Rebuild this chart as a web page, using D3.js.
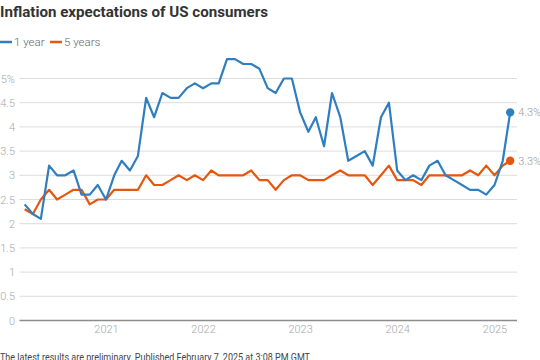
<!DOCTYPE html>
<html>
<head>
<meta charset="utf-8">
<script src="https://cdn.jsdelivr.net/npm/d3@7"></script>
<style>
  html, body { margin: 0; padding: 0; background: #fff; }
  svg { display: block; }
  text { font-family: Roboto, "Noto Sans", sans-serif; }
</style>
</head>
<body>
<svg id="chart" width="540" height="360"></svg>
<script>
// ---- Data (monthly, Feb 2020 – Feb 2025) ----
const months = [
  "2020-02","2020-03","2020-04","2020-05","2020-06","2020-07","2020-08","2020-09","2020-10","2020-11","2020-12",
  "2021-01","2021-02","2021-03","2021-04","2021-05","2021-06","2021-07","2021-08","2021-09","2021-10","2021-11","2021-12",
  "2022-01","2022-02","2022-03","2022-04","2022-05","2022-06","2022-07","2022-08","2022-09","2022-10","2022-11","2022-12",
  "2023-01","2023-02","2023-03","2023-04","2023-05","2023-06","2023-07","2023-08","2023-09","2023-10","2023-11","2023-12",
  "2024-01","2024-02","2024-03","2024-04","2024-05","2024-06","2024-07","2024-08","2024-09","2024-10","2024-11","2024-12",
  "2025-01","2025-02"
];
const oneYear = [
  2.4,2.2,2.1,3.2,3.0,3.0,3.1,2.6,2.6,2.8,2.5,
  3.0,3.3,3.1,3.4,4.6,4.2,4.7,4.6,4.6,4.8,4.9,4.8,
  4.9,4.9,5.4,5.4,5.3,5.3,5.2,4.8,4.7,5.0,5.0,4.3,
  3.9,4.2,3.6,4.7,4.2,3.3,3.4,3.5,3.2,4.2,4.5,3.1,
  2.9,3.0,2.9,3.2,3.3,3.0,2.9,2.8,2.7,2.7,2.6,2.8,
  3.3,4.3
];
const fiveYears = [
  2.3,2.2,2.5,2.7,2.5,2.6,2.7,2.7,2.4,2.5,2.5,
  2.7,2.7,2.7,2.7,3.0,2.8,2.8,2.9,3.0,2.9,3.0,2.9,
  3.1,3.0,3.0,3.0,3.0,3.1,2.9,2.9,2.7,2.9,3.0,3.0,
  2.9,2.9,2.9,3.0,3.1,3.0,3.0,3.0,2.8,3.0,3.2,2.9,
  2.9,2.9,2.8,3.0,3.0,3.0,3.0,3.0,3.1,3.0,3.2,3.0,
  3.2,3.3
];
const yTicks = [0, 0.5, 1, 1.5, 2, 2.5, 3, 3.5, 4, 4.5, 5];
const yTickLabels = ["0","0.5","1","1.5","2","2.5","3","3.5","4","4.5","5%"];
const xTickYears = ["2021","2022","2023","2024","2025"];
const seriesNames = ["1 year", "5 years"];
const endLabels = ["4.3%", "3.3%"];

const title = "Inflation expectations of US consumers";
const footer = "The latest results are preliminary. Published February 7, 2025 at 3:08 PM GMT";

// ---- Styles ----
const colors = ["#2f7ebf", "#e5560f"];
const gridColor = "#dcdcdc";
const labelColor = "#a8a8a8";

const svg = d3.select("#chart");
const parseMonth = d3.timeParse("%Y-%m");
// each monthly value is plotted at the end of its month
const dates = months.map(m => d3.timeMonth.offset(parseMonth(m), 1));
const yearDates = xTickYears.map(y => new Date(+y, 0, 1));

const x = d3.scaleTime()
  .domain([new Date(2021, 0, 1), new Date(2025, 0, 1)])
  .range([106, 494.5]);
const y = d3.scaleLinear().domain([0, 5]).range([320.5, 78.5]);

const gridLeft = 19.5, gridRight = 517;

// Gridlines
svg.append("g").selectAll("line")
  .data(yTicks.slice(1))
  .join("line")
  .attr("x1", gridLeft).attr("x2", gridRight)
  .attr("y1", d => y(d)).attr("y2", d => y(d))
  .attr("stroke", gridColor).attr("stroke-width", 1);

// Y axis labels
const yAxis = d3.axisLeft(y).tickValues(yTicks)
  .tickFormat((d, i) => yTickLabels[i]).tickSize(0).tickPadding(0);
const gy = svg.append("g").attr("transform", "translate(15,0)").call(yAxis);
gy.select(".domain").remove();
gy.selectAll("text")
  .attr("fill", labelColor)
  .style("font-size", "11px")
  .style("font-family", "Roboto, sans-serif")
  .style("font-weight", 300);

// Baseline at zero
svg.append("line")
  .attr("x1", gridLeft).attr("x2", gridRight)
  .attr("y1", y(0)).attr("y2", y(0))
  .attr("stroke", "#8c8c8c").attr("stroke-width", 1.5);

// X axis labels
const xAxis = d3.axisBottom(x).tickValues(yearDates)
  .tickFormat((d, i) => xTickYears[i]).tickSize(0).tickPadding(0);
const gx = svg.append("g").attr("transform", "translate(0,325)").call(xAxis);
gx.select(".domain").remove();
gx.selectAll("text")
  .attr("fill", labelColor)
  .attr("dy", "0.71em")
  .style("font-size", "11px")
  .style("font-family", "Roboto, sans-serif")
  .style("font-weight", 300);

// Lines
const series = [oneYear, fiveYears];
const line = d3.line()
  .x((d, i) => x(dates[i]))
  .y(d => y(d));

[1, 0].forEach(k => {
  svg.append("path")
    .datum(series[k])
    .attr("d", line)
    .attr("fill", "none")
    .attr("stroke", colors[k])
    .attr("stroke-width", 2.2)
    .attr("stroke-linejoin", "round");
});

// End dots and labels
series.forEach((s, k) => {
  const last = s.length - 1;
  svg.append("circle")
    .attr("cx", x(dates[last])).attr("cy", y(s[last]))
    .attr("r", 4.2).attr("fill", colors[k]);
  svg.append("text")
    .attr("x", x(dates[last]) + 8).attr("y", y(s[last]))
    .attr("dy", "0.35em")
    .attr("fill", "#9a9a9a")
    .style("font-size", "11px")
    .style("font-weight", 300)
    .text(endLabels[k]);
});

// Title
svg.append("text")
  .attr("x", 0).attr("y", 17)
  .attr("fill", "#333")
  .attr("textLength", 268)
  .attr("lengthAdjust", "spacingAndGlyphs")
  .style("font-size", "15.5px")
  .style("font-weight", 700)
  .text(title);

// Legend
const legendItems = [{x: 0}, {x: 50}];
legendItems.forEach((it, k) => {
  svg.append("line")
    .attr("x1", it.x).attr("x2", it.x + 12)
    .attr("y1", 42).attr("y2", 42)
    .attr("stroke", colors[k]).attr("stroke-width", 2.5);
  svg.append("text")
    .attr("x", it.x + 14).attr("y", 42).attr("dy", "0.35em")
    .attr("fill", "#666")
    .style("font-size", "11.5px")
    .style("font-weight", 300)
    .text(seriesNames[k]);
});

// Footer
svg.append("text")
  .attr("x", 0).attr("y", 361)
  .attr("fill", "#444")
  .attr("textLength", 310)
  .attr("lengthAdjust", "spacingAndGlyphs")
  .style("font-size", "10.5px")
  .text(footer);
</script>
</body>
</html>
